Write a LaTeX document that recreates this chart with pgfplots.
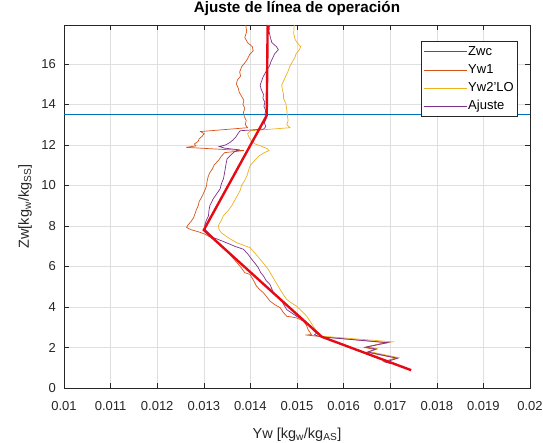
\documentclass[border=0pt]{standalone}
\usepackage{fontspec}
\setmainfont{Liberation Sans}
\usepackage{pgfplots}
\pgfplotsset{compat=1.18}

\definecolor{mlblue}{RGB}{0,114,189}
\definecolor{mlorange}{RGB}{217,83,25}
\definecolor{mlyellow}{RGB}{237,177,32}
\definecolor{mlpurple}{RGB}{126,47,142}
\definecolor{fitred}{RGB}{230,10,20}
\definecolor{axgray}{RGB}{38,38,38}
\definecolor{gridgray}{RGB}{223,223,223}

% Measured profile Yw1
\pgfplotstableread{
x y
0.01390 17.92
0.01392 17.60
0.01388 17.30
0.01394 17.05
0.01404 16.85
0.01406 16.65
0.01398 16.45
0.01394 16.25
0.01388 16.05
0.01381 15.85
0.01377 15.60
0.01379 15.40
0.01372 15.20
0.01370 15.00
0.01374 14.80
0.01376 14.60
0.01381 14.40
0.01386 14.20
0.01384 14.00
0.01388 13.80
0.01385 13.60
0.01387 13.40
0.01391 13.20
0.01389 13.00
0.01394 12.85
0.01293 12.66
0.01301 12.55
0.01296 12.42
0.01290 12.30
0.01288 12.18
0.01280 12.05
0.01283 11.95
0.01262 11.88
0.01386 11.72
0.01345 11.62
0.01338 11.45
0.01332 11.25
0.01322 11.00
0.01318 10.80
0.01312 10.60
0.01309 10.40
0.01307 10.20
0.01306 10.00
0.01303 9.80
0.01299 9.60
0.01295 9.40
0.01290 9.20
0.01288 9.00
0.01284 8.80
0.01281 8.60
0.01278 8.40
0.01272 8.20
0.01266 8.05
0.01263 7.93
0.01272 7.82
0.01290 7.70
0.01303 7.59
0.01316 7.42
0.01328 7.26
0.01338 7.02
0.01349 6.77
0.01360 6.48
0.01371 6.19
0.01380 5.95
0.01388 5.69
0.01399 5.61
0.01407 5.30
0.01413 5.03
0.01420 4.86
0.01428 4.70
0.01435 4.50
0.01442 4.29
0.01452 4.12
0.01464 3.96
0.01470 3.75
0.01478 3.54
0.01490 3.50
0.01499 3.46
0.01507 3.38
0.01514 3.29
0.01520 3.10
0.01524 2.88
0.01531 2.63
0.01518 2.62
0.01553 2.53
0.01690 2.24
0.01645 2.00
0.01668 1.90
0.01650 1.76
0.01712 1.48
0.01686 1.30
0.01700 1.22
}\ywone

% Operating-line profile Yw2'LO
\pgfplotstableread{
x y
0.01494 17.92
0.01493 17.50
0.01496 17.20
0.01502 17.00
0.01508 16.85
0.01505 16.70
0.01498 16.50
0.01496 16.35
0.01490 16.10
0.01485 15.90
0.01481 15.65
0.01476 15.40
0.01472 15.20
0.01467 14.95
0.01469 14.70
0.01471 14.50
0.01471 14.30
0.01476 14.05
0.01478 13.75
0.01479 13.50
0.01481 13.20
0.01478 13.00
0.01485 12.85
0.01400 12.70
0.01394 12.55
0.01397 12.38
0.01402 12.20
0.01410 12.05
0.01422 11.95
0.01436 11.82
0.01440 11.72
0.01430 11.62
0.01418 11.45
0.01410 11.25
0.01400 11.00
0.01396 10.75
0.01393 10.50
0.01388 10.25
0.01381 10.00
0.01378 9.75
0.01372 9.50
0.01366 9.25
0.01360 9.00
0.01352 8.75
0.01342 8.50
0.01337 8.25
0.01331 8.00
0.01333 7.82
0.01337 7.68
0.01342 7.59
0.01355 7.38
0.01370 7.18
0.01385 7.05
0.01399 6.93
0.01410 6.65
0.01421 6.35
0.01430 6.10
0.01438 5.86
0.01446 5.55
0.01453 5.28
0.01459 5.05
0.01464 4.86
0.01471 4.60
0.01478 4.37
0.01488 4.20
0.01499 4.04
0.01510 3.80
0.01521 3.54
0.01528 3.30
0.01535 3.04
0.01543 2.80
0.01553 2.56
0.01705 2.28
0.01652 2.05
0.01672 1.94
0.01655 1.80
0.01718 1.50
0.01692 1.30
0.01704 1.22
}\ywtwo

% Adjusted profile
\pgfplotstableread{
x y
0.01441 17.92
0.01440 17.60
0.01443 17.30
0.01446 17.05
0.01456 16.85
0.01460 16.70
0.01452 16.50
0.01449 16.35
0.01444 16.10
0.01441 15.90
0.01433 15.60
0.01427 15.35
0.01424 15.15
0.01421 14.95
0.01423 14.75
0.01428 14.50
0.01427 14.30
0.01431 14.10
0.01429 13.90
0.01433 13.70
0.01431 13.50
0.01434 13.30
0.01430 13.10
0.01433 12.90
0.01428 12.78
0.01378 12.70
0.01373 12.55
0.01369 12.40
0.01363 12.25
0.01356 12.12
0.01347 12.00
0.01333 11.92
0.01345 11.84
0.01375 11.76
0.01365 11.65
0.01358 11.50
0.01350 11.32
0.01348 11.10
0.01346 10.82
0.01344 10.55
0.01342 10.32
0.01338 10.10
0.01335 9.83
0.01328 9.60
0.01320 9.33
0.01313 9.00
0.01311 8.75
0.01310 8.50
0.01305 8.25
0.01302 8.05
0.01304 7.80
0.01320 7.43
0.01340 7.25
0.01356 7.10
0.01368 6.98
0.01385 6.85
0.01395 6.60
0.01403 6.35
0.01410 6.15
0.01417 5.94
0.01422 5.70
0.01428 5.53
0.01434 5.30
0.01442 5.11
0.01446 4.90
0.01449 4.70
0.01458 4.50
0.01467 4.29
0.01472 4.10
0.01478 3.87
0.01489 3.70
0.01499 3.54
0.01510 3.40
0.01519 3.20
0.01528 3.04
0.01535 2.85
0.01542 2.71
0.01537 2.62
0.01553 2.52
0.01695 2.24
0.01648 2.02
0.01670 1.92
0.01652 1.78
0.01716 1.47
0.01690 1.28
0.01702 1.20
}\ajuste

% Piecewise operating line
\pgfplotstableread{
x y
0.01437 17.92
0.01435 13.45
0.01300 7.80
0.01553 2.53
0.01745 0.88
}\linea

\begin{document}
\begin{tikzpicture}
\path[use as bounding box] (-64pt,-54pt) rectangle (479pt,388pt);
\begin{axis}[
  at={(0pt,0pt)}, anchor=south west,
  scale only axis, width=466pt, height=363pt,
  xmin=0.01, xmax=0.02, ymin=0, ymax=17.92,
  xtick={0.01,0.011,0.012,0.013,0.014,0.015,0.016,0.017,0.018,0.019,0.02},
  xticklabels={0.01,0.011,0.012,0.013,0.014,0.015,0.016,0.017,0.018,0.019,0.02},
  scaled x ticks=false,
  ytick={0,2,4,6,8,10,12,14,16},
  grid=major,
  major grid style={gridgray, line width=0.5pt},
  tick align=inside,
  major tick length=5pt,
  axis line style={axgray, line width=0.6pt},
  every tick/.style={axgray, line width=0.6pt},
  /pgf/number format/assume math mode=true,
  tick label style={font=\fontsize{13}{13}\selectfont, text=axgray},
  xticklabel style={anchor=base, yshift=-22pt},
  yticklabel style={anchor=east, inner sep=0pt, xshift=-8pt},
  title={Ajuste de línea de operación},
  title style={at={([yshift=6pt]axis description cs:0.5,1)}, anchor=base,
    font=\bfseries\fontsize{15.2}{15.2}\selectfont, text=black},
  xlabel={Yw [kg\textsubscript{w}/kg\textsubscript{AS}]},
  xlabel style={at={([yshift=-50pt]axis description cs:0.5,0)}, anchor=base,
    font=\fontsize{14.5}{14.5}\selectfont, text=axgray},
  ylabel={Zw[kg\textsubscript{w}/kg\textsubscript{SS}]},
  ylabel style={at={([xshift=-35pt]axis description cs:0,0.5)}, anchor=base,
    font=\fontsize{14.5}{14.5}\selectfont, text=axgray},
  legend style={at={([xshift=-13pt,yshift=-16pt]rel axis cs:1,1)}, anchor=north east,
    draw=axgray, line width=0.5pt, fill=white,
    font=\fontsize{13}{13}\selectfont, text=black,
    inner xsep=2pt, inner ysep=1.5pt, row sep=0pt,
    nodes={inner xsep=1pt, inner ysep=2.8pt, text height=9.5pt, text depth=3pt}},
  legend cell align=left,
  legend image code/.code={\draw[#1] (0pt,0pt) -- (43pt,0pt);},
]
\addplot[draw=mlblue, line width=0.8pt] coordinates {(0.01,13.5) (0.02,13.5)};
\addlegendentry{Zwc}
\addplot[draw=mlorange, line width=0.7pt] table {\ywone};
\addlegendentry{Yw1}
\addplot[draw=mlyellow, line width=0.7pt] table {\ywtwo};
\addlegendentry{Yw2'LO}
\addplot[draw=mlpurple, line width=0.7pt] table {\ajuste};
\addlegendentry{Ajuste}
\addplot[draw=fitred, line width=2.4pt, forget plot] table {\linea};
\end{axis}
\end{tikzpicture}
\end{document}
